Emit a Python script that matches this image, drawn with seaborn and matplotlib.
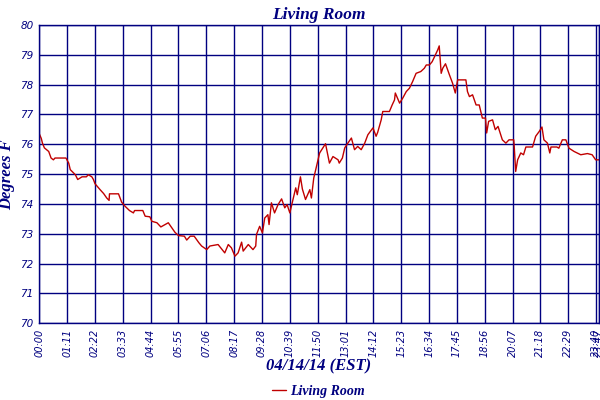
import matplotlib
matplotlib.use("Agg")
import matplotlib.pyplot as plt
import seaborn as sns
import pandas as pd

# minutes since midnight, temperature (F)
minutes = [0, 5, 8, 13, 24, 30, 36, 40, 68, 75, 79, 85, 92, 98, 109, 120, 125, 134, 138, 142,
           155, 164, 172, 178, 179, 202, 206, 210, 215, 219, 230, 240, 243, 264, 270, 282, 287,
           300, 310, 329, 338, 346, 355, 370, 376, 385, 395, 407, 414, 427, 435, 456, 473, 482,
           490, 499, 507, 516, 520, 533, 545, 552, 554, 562, 569, 575, 583, 586, 592, 600, 609,
           618, 626, 632, 639, 647, 654, 658, 666, 671, 679, 690, 694, 700, 707, 711, 715, 730,
           740, 749, 762, 765, 773, 779, 787, 796, 804, 812, 821, 830, 838, 851, 859, 863, 872,
           876, 893, 900, 906, 908, 919, 927, 936, 944, 952, 961, 973, 982, 987, 995, 1002, 1008,
           1016, 1020, 1025, 1029, 1036, 1046, 1054, 1061, 1067, 1088, 1092, 1097, 1105, 1114,
           1122, 1130, 1138, 1141, 1146, 1156, 1163, 1170, 1181, 1190, 1198, 1210, 1211, 1215,
           1220, 1228, 1235, 1241, 1258, 1266, 1275, 1282, 1287, 1296, 1302, 1305, 1320, 1325,
           1334, 1343, 1351, 1364, 1381, 1398, 1410, 1419, 1427]
temps = [76.35, 76.2, 76.04, 75.88, 75.76, 75.54, 75.48, 75.54, 75.54, 75.37, 75.15, 75.07, 74.98,
         74.82, 74.91, 74.91, 74.98, 74.91, 74.82, 74.68, 74.48, 74.35, 74.2, 74.12, 74.34, 74.34,
         74.2, 74.06, 73.98, 73.92, 73.78, 73.7, 73.78, 73.78, 73.59, 73.57, 73.42, 73.37, 73.23,
         73.37, 73.2, 73.05, 72.94, 72.92, 72.79, 72.92, 72.92, 72.7, 72.59, 72.47, 72.59, 72.64,
         72.36, 72.64, 72.53, 72.25, 72.36, 72.72, 72.42, 72.64, 72.47, 72.59, 72.98, 73.25, 73.03,
         73.53, 73.64, 73.31, 74.04, 73.7, 73.98, 74.17, 73.87, 73.98, 73.7, 74.15, 74.54, 74.31,
         74.91, 74.5, 74.15, 74.48, 74.2, 74.87, 75.26, 75.48, 75.71, 76.02, 75.37, 75.59, 75.48,
         75.37, 75.54, 75.88, 76.04, 76.21, 75.82, 75.93, 75.82, 76.04, 76.32, 76.55, 76.27, 76.4,
         76.82, 77.1, 77.1, 77.32, 77.49, 77.72, 77.38, 77.55, 77.77, 77.88, 78.1, 78.38, 78.44,
         78.55, 78.66, 78.66, 78.77, 78.94, 79.16, 79.3, 78.38, 78.55, 78.7, 78.33, 78.05, 77.72,
         78.16, 78.16, 77.77, 77.6, 77.66, 77.32, 77.32, 76.88, 76.88, 76.38, 76.77, 76.82, 76.49,
         76.6, 76.15, 76.04, 76.15, 76.15, 75.99, 75.09, 75.48, 75.71, 75.65, 75.91, 75.91, 76.27,
         76.43, 76.58, 76.15, 76.04, 75.71, 75.91, 75.91, 75.87, 76.15, 76.15, 75.87, 75.76,
         75.65, 75.69, 75.65, 75.48, 75.48]

tick_minutes = list(range(0, 1421, 71)) + [1427]
tick_labels = ["%02d:%02d" % (m // 60, m % 60) for m in tick_minutes]
y_ticks = list(range(70, 81))

df = pd.DataFrame({"minute": minutes, "temp": temps, "series": "Living Room"})

navy = "#000080"
red = "#c00000"

sns.set_style("white")
fig = plt.figure(figsize=(6, 4), dpi=100)
ax = fig.add_axes([0.0655, 0.1918, 0.9325, 0.7457])

sns.lineplot(data=df, x="minute", y="temp", color=red, linewidth=1.0,
             ax=ax, legend=False, label="Living Room")

ax.set_xlim(0, 1427)
ax.set_ylim(70, 80)
ax.set_xticks(tick_minutes)
ax.set_xticklabels(tick_labels, rotation=90, fontsize=7, color=navy,
                   fontstyle="italic", family="DejaVu Sans")
ax.set_yticks(y_ticks)
ax.set_yticklabels([str(v) for v in y_ticks], fontsize=7.5, color=navy,
                   fontstyle="italic", family="DejaVu Sans")
ax.tick_params(length=0, pad=4)
ax.grid(True, color=navy, linewidth=1.0)
ax.set_axisbelow(True)
for s in ax.spines.values():
    s.set_color(navy)
    s.set_linewidth(1.0)

serif = dict(family="Liberation Serif", fontweight="bold", fontstyle="italic", color=navy)
ax.set_title("Living Room", fontsize=12.5, pad=4, **serif)
ax.set_ylabel("Degrees F", fontsize=12, labelpad=4, **serif)
ax.set_xlabel("04/14/14 (EST)", fontsize=12, labelpad=1, **serif)

handles, labels = ax.get_legend_handles_labels()
leg = fig.legend(handles, labels, loc="lower center", bbox_to_anchor=(0.53, -0.025),
                 frameon=False, handlelength=1.0, handletextpad=0.3,
                 prop=dict(family="Liberation Serif", weight="bold", style="italic", size=10))
for t in leg.get_texts():
    t.set_color(navy)

fig.savefig("out.png", dpi=100)
